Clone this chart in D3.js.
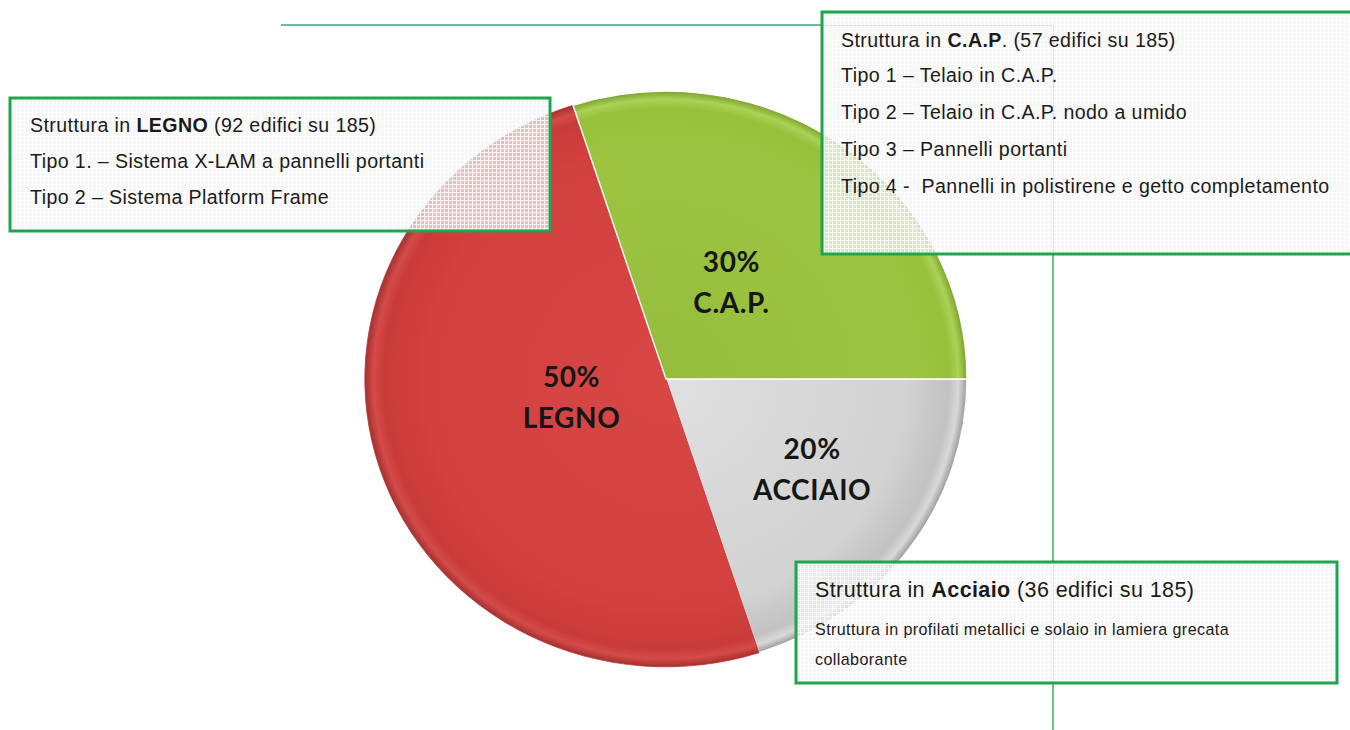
<!DOCTYPE html>
<html>
<head>
<meta charset="utf-8">
<script src="https://cdn.jsdelivr.net/npm/d3@7"></script>
<style>
    body { margin: 0; background: #ffffff; }
    svg { display: block; }
    .boxText { font-family: "Liberation Sans", Arial, sans-serif; fill: #1b1b1b; letter-spacing: 0.4px; }
    .pieLabel { font-family: Lato, "Open Sans", sans-serif; font-weight: bold; fill: #161616; letter-spacing: 0.6px; }
</style>
</head>
<body>
<div id="chart"></div>
<script>
// data
let categories = ["ACCIAIO", "LEGNO", "C.A.P."];
let percents = [20, 50, 30];
let buildings = [36, 92, 57];
let totalBuildings = 185;

let legnoLines = ["Tipo 1. \u2013 Sistema X-LAM a pannelli portanti", "Tipo 2 \u2013 Sistema Platform Frame"];
let capLines = ["Tipo 1 \u2013 Telaio in C.A.P.", "Tipo 2 \u2013 Telaio in C.A.P. nodo a umido",
    "Tipo 3 \u2013 Pannelli portanti", "Tipo 4 -  Pannelli in polistirene e getto completamento"];
let acciaioLines = ["Struttura in profilati metallici e solaio in lamiera grecata", "collaborante"];

// styles / layout
let width = 1350, height = 730;
let cx = 666, cy = 379, radius = 301, squash = 0.956;
let sliceColors = {
    "ACCIAIO": ["#e0e0e0", "#d2d2d2", "#c2c2c2", "#d8d8d8", "#9a9a9a"],
    "LEGNO": ["#d84746", "#d2403f", "#c93b3a", "#d44b49", "#a53130"],
    "C.A.P.": ["#96bc3c", "#9dc541", "#97c03b", "#aad255", "#7ea22d"]
};
let labelRadius = { "ACCIAIO": 0.6, "LEGNO": 0.33, "C.A.P.": 0.37 };

let svg = d3.select("#chart").append("svg")
    .attr("width", width)
    .attr("height", height);

let defs = svg.append("defs");

// grid hatch used in the semi transparent boxes
let pattern = defs.append("pattern")
    .attr("id", "grid")
    .attr("width", 4)
    .attr("height", 4)
    .attr("patternUnits", "userSpaceOnUse");
pattern.append("rect").attr("width", 4).attr("height", 4).attr("fill", "#f3f3f3").attr("fill-opacity", 0.72);
pattern.append("path").attr("d", "M0 0.5H4M0.5 0V4").attr("stroke", "#ffffff").attr("stroke-width", 1).attr("stroke-opacity", 0.8);

categories.forEach((c, i) => {
    let g = defs.append("radialGradient")
        .attr("id", "grad" + i)
        .attr("gradientUnits", "userSpaceOnUse")
        .attr("cx", 0).attr("cy", 0).attr("r", radius);
    let offs = [0, 0.8, 0.94, 0.972, 1];
    sliceColors[c].forEach((col, k) => {
        g.append("stop").attr("offset", offs[k]).attr("stop-color", col);
    });
});

// connector lines behind the boxes
svg.append("path")
    .attr("d", `M281 25H1053V730`)
    .attr("fill", "none")
    .attr("stroke", "#6cbd97")
    .attr("stroke-width", 2);

// pie
let pieData = categories.map((c, i) => ({ name: c, value: percents[i], count: buildings[i], idx: i }));
let pie = d3.pie()
    .sort(null)
    .value(d => d.value)
    .startAngle(Math.PI / 2)
    .endAngle(Math.PI / 2 + 2 * Math.PI);
let arcs = pie(pieData);
let arc = d3.arc().innerRadius(0).outerRadius(radius);

let pieGroup = svg.append("g")
    .attr("transform", `translate(${cx}, ${cy}) scale(1, ${squash})`);

pieGroup.selectAll("path.slice")
    .data(arcs)
    .enter()
    .append("path")
    .attr("class", "slice")
    .attr("d", arc)
    .attr("fill", d => `url(#grad${d.data.idx})`)
    .attr("stroke", d => d.data.name === "LEGNO" ? "#b33736" : "#ffffff")
    .attr("stroke-width", d => d.data.name === "LEGNO" ? 0.8 : 1.4)
    .attr("stroke-linejoin", "round");

// labels
let labelGroup = svg.append("g");
arcs.forEach(d => {
    let r = radius * labelRadius[d.data.name];
    let a = (d.startAngle + d.endAngle) / 2;
    let x = cx + r * Math.sin(a);
    let y = cy - r * Math.cos(a) * squash;
    let t = labelGroup.append("text")
        .attr("class", "pieLabel")
        .attr("text-anchor", "middle")
        .attr("font-size", 28);
    t.append("tspan").attr("x", x).attr("y", y - 21).text(d.data.value + "%");
    t.append("tspan").attr("x", x).attr("y", y + 20).text(d.data.name);
});

// description boxes
function drawBox(x, y, w, h) {
    svg.append("rect")
        .attr("x", x).attr("y", y)
        .attr("width", w).attr("height", h)
        .attr("fill", "url(#grid)")
        .attr("stroke", "#1fa64c")
        .attr("stroke-width", 3);
}

function titleLine(x, y, bold, count, size) {
    let t = svg.append("text")
        .attr("class", "boxText")
        .attr("x", x).attr("y", y)
        .attr("font-size", size);
    t.append("tspan").text("Struttura in ");
    t.append("tspan").attr("font-weight", "bold").text(bold);
    t.append("tspan").text(` (${count} edifici su ${totalBuildings})`);
    return t;
}

function plainLines(lines, x, y0, step, size) {
    lines.forEach((s, i) => {
        svg.append("text")
            .attr("class", "boxText")
            .attr("x", x).attr("y", y0 + i * step)
            .attr("font-size", size)
            .attr("xml:space", "preserve")
            .style("white-space", "pre")
            .text(s);
    });
}

// LEGNO
drawBox(10, 98, 540, 133);
titleLine(30, 132, "LEGNO", buildings[1], 19.6);
plainLines(legnoLines, 30, 168, 36, 19.6);

// C.A.P.
drawBox(822, 12, 532, 242);
let capTitle = svg.append("text")
    .attr("class", "boxText")
    .attr("x", 841).attr("y", 47)
    .attr("font-size", 19.6);
capTitle.append("tspan").text("Struttura in ");
capTitle.append("tspan").attr("font-weight", "bold").text("C.A.P");
capTitle.append("tspan").text(`. (${buildings[2]} edifici su ${totalBuildings})`);
plainLines(capLines, 841, 82, 37, 19.6);

// Acciaio
drawBox(796, 562, 541, 121);
titleLine(815, 597, "Acciaio", buildings[0], 21.5);
plainLines(acciaioLines, 815, 635, 30, 16.1);
</script>
</body>
</html>
